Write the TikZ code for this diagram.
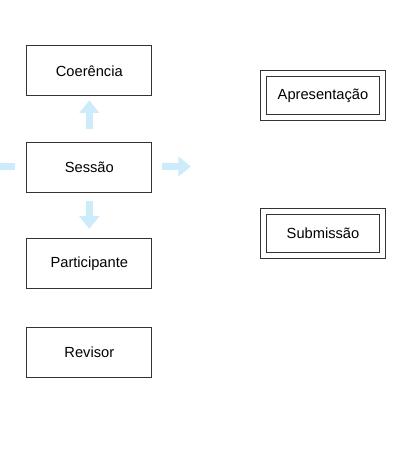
\documentclass[tikz,border=0pt]{standalone}
\usepackage{fontspec}
\setmainfont{Liberation Sans}
\usetikzlibrary{arrows.meta}
\definecolor{arrowblue}{RGB}{204,235,251}
\definecolor{boxline}{RGB}{51,51,51}
\begin{document}
\begin{tikzpicture}[x=0.75pt,y=-0.75pt,
  every node/.style={font=\fontsize{11}{13}\selectfont, text=black},
  box/.style={draw=boxline, line width=0.75pt, fill=white, minimum width=94pt, minimum height=37.5pt, inner sep=0pt},
  dbox/.style={draw=boxline, line width=0.75pt, double=white, double distance=4pt, minimum width=89.5pt, minimum height=33pt, inner sep=0pt},
  flow/.style={draw=arrowblue, line width=5pt, -{Triangle[length=9.5pt,width=14.5pt]}},
  stub/.style={draw=arrowblue, line width=5pt}
]
\useasboundingbox (0,0) rectangle (420,458);
\node[box] (coe) at (89.3,70.8) {Coerência};
\node[box] (ses) at (89.3,167.3) {Sessão};
\node[box] (par) at (89.3,263.3) {Participante};
\node[box] (rev) at (89.3,352) {Revisor};
\node[dbox] (apr) at (323,95.8) {Apresentação};
\node[dbox] (sub) at (323,233.2) {Submissão};
\coordinate (rtip) at (191,166.5);
\coordinate (lin) at (0,166.5);
\coordinate (lend) at (14.7,166.5);
\draw[flow, shorten <=9.5pt, shorten >=3pt] (ses.north) -- (coe.south);
\draw[flow, shorten <=6.3pt, shorten >=6.7pt] (ses.south) -- (par.north);
\draw[flow, shorten <=6.8pt] (ses.east |- rtip) -- (rtip);
\draw[stub] (lin) -- (lend);
\end{tikzpicture}
\end{document}
